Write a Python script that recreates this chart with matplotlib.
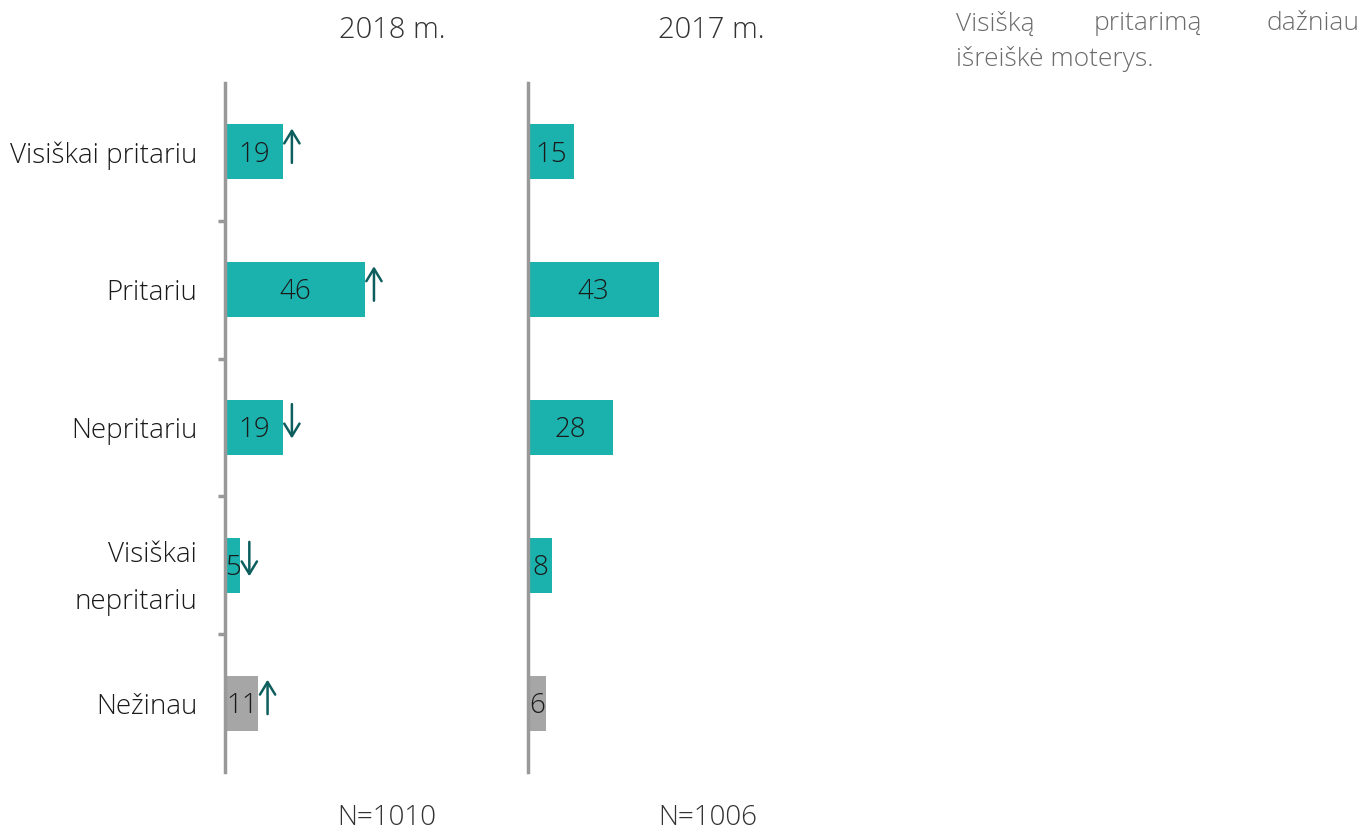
import matplotlib
matplotlib.use('Agg')
import matplotlib.pyplot as plt

# Duomenys
kategorijos = ['Visiškai pritariu', 'Pritariu', 'Nepritariu', 'Visiškai\nnepritariu', 'Nežinau']
reiksmes_2018 = [19, 46, 19, 5, 11]
reiksmes_2017 = [15, 43, 28, 8, 6]
rodykles_2018 = ['up', 'up', 'down', 'down', 'up']
antrastes = ['2018 m.', '2017 m.']
imtys = ['N=1010', 'N=1006']

TEAL = '#1BB2AE'
PILKA = '#A6A6A6'
RODYKLE = '#0E5E5E'
SPINE = '#999999'
spalvos = [TEAL, TEAL, TEAL, TEAL, PILKA]

plt.rcParams['font.family'] = ['Open Sans', 'DejaVu Sans']
plt.rcParams['font.weight'] = 'light'

W, H = 1366, 836
fig = plt.figure(figsize=(W / 100, H / 100), dpi=100)

def px_rect(left, top, right, bottom):
    return [left / W, 1 - bottom / H, (right - left) / W, (bottom - top) / H]

ax1 = fig.add_axes(px_rect(225, 83, 525, 772))
ax2 = fig.add_axes(px_rect(528, 83, 828, 772))
xmax = 300 / 3.04

for i, (ax, vals) in enumerate([(ax1, reiksmes_2018), (ax2, reiksmes_2017)]):
    y = list(range(len(kategorijos)))
    ax.barh(y, vals, height=0.4, color=spalvos, zorder=2)
    for yi, v in zip(y, vals):
        ax.text(v / 2, yi + 0.02, str(v), ha='center', va='center', fontsize=20,
                color='#1a1a1a', zorder=3)
    ax.set_xlim(0, xmax)
    ax.set_ylim(len(kategorijos) - 0.5, -0.5)
    for s in ['top', 'right', 'bottom']:
        ax.spines[s].set_visible(False)
    ax.spines['left'].set_color(SPINE)
    ax.spines['left'].set_linewidth(2.5)
    ax.set_xticks([])
    ax.tick_params(axis='y', which='major', length=0)
    if i == 0:
        ax.set_yticks(y)
        ax.set_yticklabels(kategorijos, fontsize=20, color='#1a1a1a',
                           linespacing=1.9)
        ax.tick_params(axis='y', pad=20)
        ax.set_yticks([k + 0.5 for k in y[:-1]], minor=True)
        ax.tick_params(axis='y', which='minor', length=5, width=2.5,
                       color=SPINE, direction='out')
    else:
        ax.set_yticks([])

# Rodyklės 2018 m.
for yi, (v, d) in enumerate(zip(reiksmes_2018, rodykles_2018)):
    x = v + 3
    if d == 'up':
        start, end = yi + 0.1, yi - 0.19
    else:
        start, end = yi - 0.19, yi + 0.1
    ax1.annotate('', xy=(x, end), xytext=(x, start),
                 arrowprops=dict(arrowstyle='->,head_length=0.9,head_width=0.55',
                                 color=RODYKLE, lw=1.8), zorder=4)

# Antraštės ir N
fig.text(392 / W, 1 - 30 / H, antrastes[0], ha='center', va='center',
         fontsize=21, color='#333333')
fig.text(711 / W, 1 - 30 / H, antrastes[1], ha='center', va='center',
         fontsize=21, color='#333333')
fig.text(387 / W, 1 - 818 / H, imtys[0], ha='center', va='center',
         fontsize=20, color='#333333')
fig.text(708 / W, 1 - 818 / H, imtys[1], ha='center', va='center',
         fontsize=20, color='#333333')

# Komentaras dešinėje
KOM = '#6b6b6b'
fig.text(956 / W, 1 - 24 / H, 'Visišką', ha='left', va='center', fontsize=19, color=KOM)
fig.text(1148 / W, 1 - 24 / H, 'pritarimą', ha='center', va='center', fontsize=19, color=KOM)
fig.text(1360 / W, 1 - 24 / H, 'dažniau', ha='right', va='center', fontsize=19, color=KOM)
fig.text(956 / W, 1 - 59 / H, 'išreiškė moterys.', ha='left', va='center', fontsize=19, color=KOM)

fig.savefig('out.png', dpi=100, facecolor='white')
